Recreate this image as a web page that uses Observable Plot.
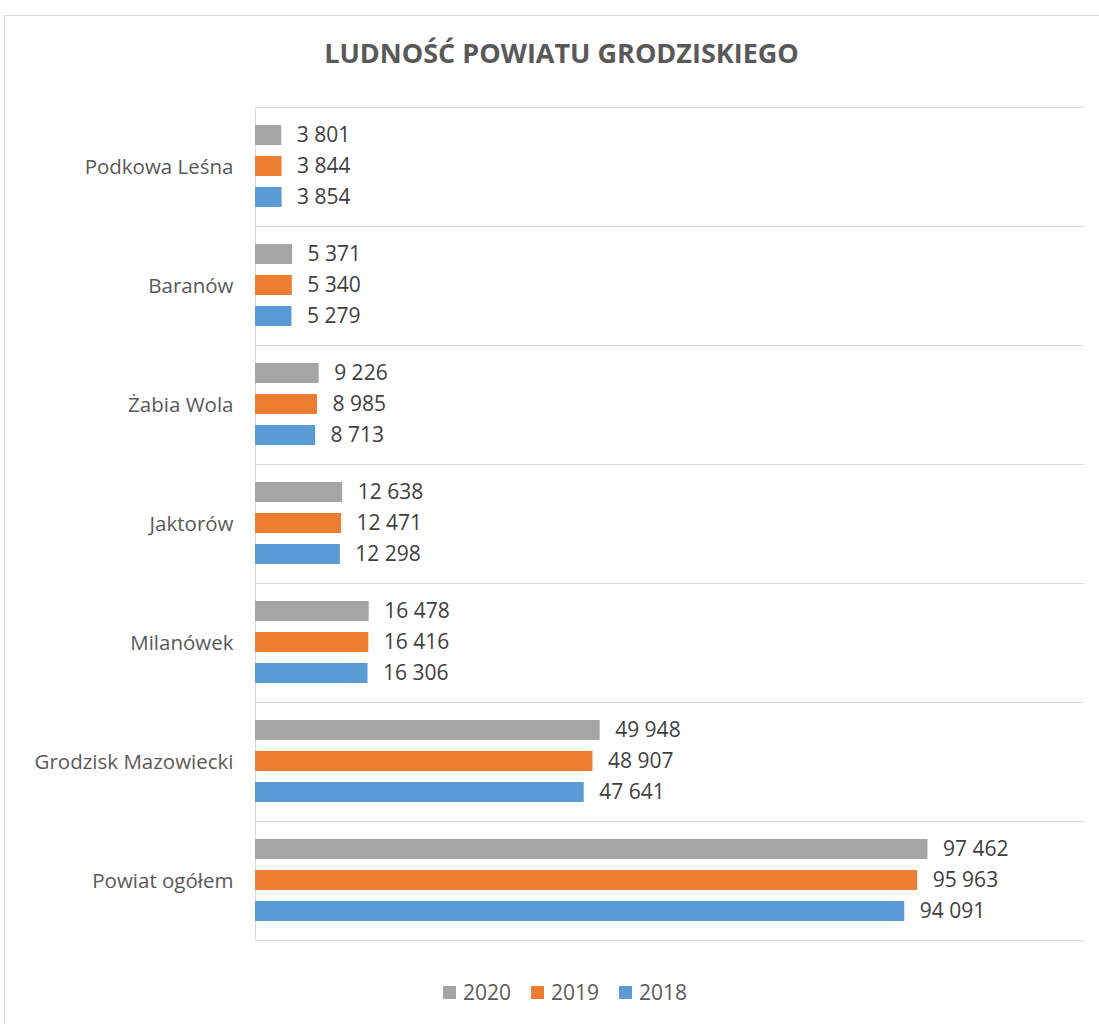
<!DOCTYPE html>
<html><head><meta charset="utf-8">
<script src="https://cdn.jsdelivr.net/npm/d3@7"></script>
<script src="https://cdn.jsdelivr.net/npm/@observablehq/plot@0.6"></script>
<style>
body{margin:0;background:#fff;font-family:"Open Sans",sans-serif;}
#wrap{position:relative;width:1099px;height:1024px;overflow:hidden;background:#fff;}
#border{position:absolute;left:4px;top:15px;width:1200px;height:1100px;border:1px solid #D9D9D9;}
#title{position:absolute;top:34px;left:0;width:1123px;text-align:center;font-family:"Open Sans",sans-serif;font-weight:700;font-size:27px;color:#595959;}
#chart{position:absolute;left:0;top:97px;}
#legend{position:absolute;top:978px;left:0;width:1130px;display:flex;justify-content:center;gap:20px;font-size:21px;color:#595959;}
#legend span{display:inline-flex;align-items:center;}
#legend i{display:inline-block;width:13px;height:13px;margin-right:7px;}
</style></head>
<body>
<div id="wrap">
<div id="border"></div>
<div id="title">LUDNOŚĆ POWIATU GRODZISKIEGO</div>
<div id="chart"></div>
<div id="legend"></div>
</div>
<script>
const categories = ["Podkowa Leśna","Baranów","Żabia Wola","Jaktorów","Milanówek","Grodzisk Mazowiecki","Powiat ogółem"];
const years = ["2020","2019","2018"];
const colors = ["#A5A5A5","#ED7D31","#5B9BD5"];
const v2020 = [3801,5371,9226,12638,16478,49948,97462];
const v2019 = [3844,5340,8985,12471,16416,48907,95963];
const v2018 = [3854,5279,8713,12298,16306,47641,94091];
const series = {"2020": v2020, "2019": v2019, "2018": v2018};

const rows = [];
categories.forEach((c, i) => years.forEach(y => rows.push({category: c, year: y, value: series[y][i]})));

const fmt = d3.formatLocale({decimal: ",", thousands: " ", grouping: [3], currency: ["", ""]}).format(",d");

const plot = Plot.plot({
  width: 1099,
  height: 853,
  marginLeft: 255,
  marginRight: 16,
  marginTop: 10,
  marginBottom: 10,
  style: {fontFamily: "'Open Sans', sans-serif", fontSize: "20.5px", color: "#595959", background: "transparent"},
  facet: {data: rows, y: "category"},
  fy: {domain: categories, padding: 0, label: null, tickSize: 0, tickPadding: 22},
  y: {domain: years, paddingInner: 0.34, paddingOuter: 0.55, axis: null},
  x: {domain: [0, 120000], axis: null},
  color: {domain: years, range: colors},
  marks: [
    Plot.frame({anchor: "top", stroke: "#D9D9D9"}),
    Plot.frame({anchor: "bottom", stroke: "#D9D9D9"}),
    Plot.ruleX([0], {stroke: "#D9D9D9"}),
    Plot.barX(rows, {x: "value", y: "year", fill: "year"}),
    Plot.text(rows, {x: "value", y: "year", text: d => fmt(d.value), textAnchor: "start", dx: 15, fontSize: 21, fill: "#404040"})
  ]
});
document.getElementById("chart").appendChild(plot);

const leg = document.getElementById("legend");
years.forEach((y, i) => {
  const s = document.createElement("span");
  s.innerHTML = `<i style="background:${colors[i]}"></i>${y}`;
  leg.appendChild(s);
});
</script>
</body></html>
